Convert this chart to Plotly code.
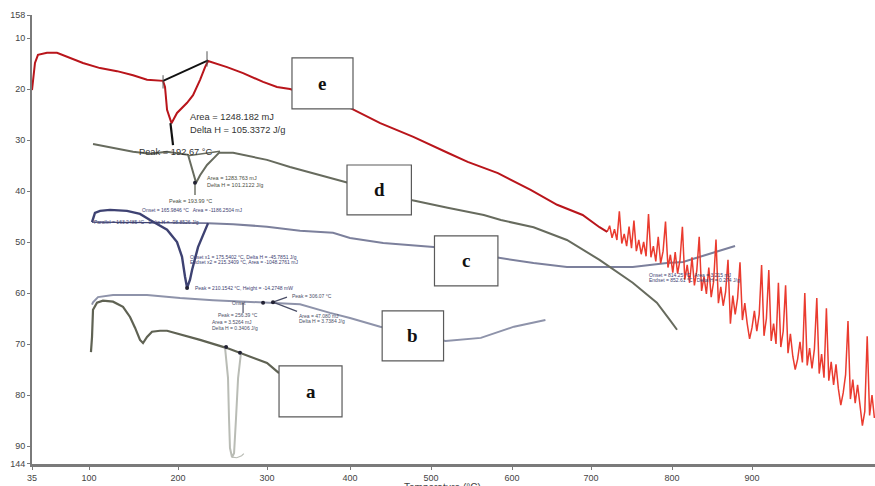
import numpy as np
import plotly.graph_objects as go

# ---- axes -------------------------------------------------------------
# printed temperature ticks and their spacing along the (non-uniform) axis
TICK_T = [35, 100, 200, 300, 400, 500, 600, 700, 800, 900, 1000, 1100]
TICK_POS = [0, 57, 146, 235, 318, 399, 480, 559, 640, 720, 800, 880]
X_LABELS = ["35", "100", "200", "300", "400", "500", "600", "700", "800", "900"]

Y_TICKS = [5.5, 10, 20, 30, 40, 50, 60, 70, 80, 90, 93.5]
Y_LABELS = ["158", "10", "20", "30", "40", "50", "60", "70", "80", "90", "144"]

# ---- thermograms (temperature in °C, heat-flow reading) ---------------
# e : smooth part
e_T = [35, 36.1, 38.4, 41.8, 52.1, 63.5, 74.9, 93.1, 112.4, 131.5, 149.5, 165.2,
       183.2, 185.4, 187.7, 192.67, 198.9, 210.2, 216.9, 224.8, 230.4, 233.8,
       255.1, 273.1, 295.6, 312.0, 327.7, 400, 437.3, 478.2, 520.5, 545.3,
       582.6, 623.6, 657.1, 689.4, 710.5, 720]
e_V = [20.2, 18.2, 14.9, 13.3, 12.9, 12.9, 13.7, 14.9, 15.9, 16.5, 17.3, 18.2,
       18.4, 19.6, 24.1, 26.7, 24.7, 22.7, 21.2, 18.2, 15.7, 14.5,
       15.7, 16.9, 18.6, 19.6, 20.0, 23.7, 26.7, 29.4, 32.5, 34.3,
       36.5, 39.8, 42.7, 44.7, 47.1, 48.0]
# e : noisy high-temperature part, one reading every 3 °C from 720 °C
EN_START, EN_STEP = 720, 3
en_V = [48.0, 46.8, 49.2, 47.5, 49.6, 44.0, 50.3, 48.4, 50.8, 47.0, 51.2, 45.8,
        51.8, 49.6, 52.4, 50.0, 52.8, 44.5, 53.0, 50.8, 53.8, 49.0, 54.2, 51.8,
        46.0, 55.0, 52.5, 56.0, 52.0, 56.2, 53.5, 47.0, 57.4, 54.5, 58.0, 53.0,
        58.5, 55.6, 49.0, 59.6, 56.8, 60.2, 55.0, 60.8, 57.8, 49.5, 62.0, 58.8,
        62.5, 59.8, 53.5, 66.0, 60.5, 64.2, 61.0, 54.0, 65.3, 62.0, 66.0, 69.0,
        66.8, 63.5, 67.5, 64.2, 54.5, 68.4, 65.0, 55.5, 69.4, 66.0, 70.0, 58.0,
        70.6, 67.5, 58.5, 71.8, 68.0, 72.4, 75.0, 73.0, 69.6, 73.6, 60.0, 74.2,
        70.8, 74.8, 71.0, 61.0, 75.8, 72.0, 76.6, 63.0, 77.2, 73.5, 78.0, 74.0,
        78.8, 82.0, 79.6, 76.0, 65.5, 80.8, 77.0, 81.6, 78.0, 82.4, 86.0, 83.2,
        68.5, 84.0, 80.0, 84.5]
en_T = [EN_START + EN_STEP * i for i in range(len(en_V))]

d_T = [104.5, 123.6, 149.5, 168.6, 187.7, 211.3, 214.6, 218.0, 220.3, 224.8,
       232.6, 240.5, 246.1, 261.9, 300, 327.7, 355.4, 396.4, 477.0, 520.5,
       565.2, 586.3, 627.3, 669.5, 710.5, 751.5, 781.3, 797.5, 806.3]
d_V = [30.8, 31.4, 32.3, 32.7, 32.3, 32.9, 34.9, 37.5, 38.4, 36.9,
       34.9, 33.5, 32.5, 32.5, 33.9, 35.3, 36.5, 38.4, 41.8, 43.3,
       44.7, 45.7, 47.1, 49.6, 53.5, 58.0, 61.9, 65.3, 67.2]

c_T = [103.4, 106.7, 112.4, 123.6, 142.7, 157.3, 168.6, 187.7, 198.9, 204.5,
       207.9, 210.2, 213.5, 215.8, 222.5, 229.3, 233.8]
c_V = [46.1, 44.3, 43.9, 43.7, 43.9, 44.5, 45.7, 47.6, 50.0, 52.9,
       56.8, 59.0, 57.4, 55.5, 51.0, 48.0, 46.3]
c2_T = [233.8, 261.9, 300.0, 339.8, 379.5, 400, 441.0, 483.2, 503.1, 583.8,
        627.3, 669.5, 710.5, 751.5, 793.8, 813.8, 835, 856.3, 878.8]
c2_V = [46.3, 46.5, 47.0, 47.8, 48.2, 49.2, 50.2, 50.8, 51.0, 53.1,
        54.1, 54.9, 54.9, 54.9, 54.1, 53.9, 52.9, 51.9, 50.8]

b_T = [103.4, 104.5, 110.1, 127.0, 165.2, 202.3, 239.4, 295.6, 339.8, 375.9,
       400, 437.3, 518.0, 561.5, 602.5, 642.3]
b_V = [62.3, 61.8, 60.8, 60.4, 60.4, 61.0, 61.4, 61.9, 62.2, 63.9,
       64.9, 66.6, 69.4, 68.8, 66.6, 65.3]

a_T = [102.2, 103.4, 104.5, 109.0, 115.7, 127.0, 138.2, 146.1, 151.7, 157.3,
       160.7, 165.2, 170.8, 179.8, 187.7, 205.7, 224.8, 255.1, 269.7, 284.3,
       300, 314.5]
a_V = [71.6, 68.6, 63.3, 61.9, 61.5, 61.7, 62.7, 64.7, 66.8, 69.2,
       69.8, 68.6, 67.6, 67.4, 67.4, 68.2, 69.2, 70.8, 71.7, 72.7,
       73.7, 75.7]
# a : sharp melting endotherm
am_T = [252.8, 256.2, 257.3, 258.4, 260.7, 263.0, 265.2, 267.5, 270.8]
am_V = [70.6, 76.7, 84.5, 90.4, 92.2, 91.4, 84.5, 76.7, 71.7]
am_tail_T = [260.7, 266.0, 271.5, 274.0]
am_tail_V = [92.2, 92.3, 91.9, 91.5]

# integration baselines / peak markers
e_base_T, e_base_V = [183.2, 233.8], [18.4, 14.4]
e_peak_T, e_peak_V = [191.5, 194.4], [26.7, 31.0]
d_base_T, d_base_V = [211.3, 247.2], [33.1, 32.2]
d_peak_T, d_peak_V = [219.1, 219.1], [38.4, 40.8]
c_base_T, c_base_V = [103.4, 233.8], [46.1, 46.3]

LABELS = ["a", "b", "c", "d", "e"]
# label boxes: (T_left, T_right, V_top, V_bottom)
BOXES = {
    "e": (330.1, 403.7, 13.9, 23.9),
    "d": (396.4, 475.8, 34.9, 44.7),
    "c": (504.3, 582.6, 48.8, 58.6),
    "b": (439.7, 515.5, 63.5, 73.3),
    "a": (314.5, 390.4, 74.3, 84.3),
}


def tx(t):
    """Map temperatures onto the axis spacing."""
    return np.interp(np.asarray(t, dtype=float), TICK_T, TICK_POS)


fig = go.Figure()


def line(T, V, color, width=2.0, shape="linear"):
    fig.add_trace(go.Scatter(x=tx(T), y=V, mode="lines",
                             line=dict(color=color, width=width, shape=shape),
                             hoverinfo="skip", showlegend=False))


RED = "#b9151b"
RED_N = "#ea3b2f"
OLIVE = "#676b5e"
NAVY = "#3e4272"
SLATE = "#7c809c"
LBLUE = "#8e93aa"
AGREY = "#5f6253"
LGREY = "#b9bcb5"

line(a_T, a_V, AGREY, 2.2)
line(am_T, am_V, LGREY, 2.0)
line(am_tail_T, am_tail_V, LGREY, 1.2)
line(b_T, b_V, LBLUE, 2.0)
line(c2_T, c2_V, SLATE, 2.0)
line(c_T, c_V, NAVY, 2.4)
line(c_base_T, c_base_V, NAVY, 1.2)
line(d_T, d_V, OLIVE, 2.0)
line(d_base_T, d_base_V, OLIVE, 1.4)
line(d_peak_T, d_peak_V, OLIVE, 1.4)
line(en_T, en_V, RED_N, 1.5)
line(e_T, e_V, RED, 2.0)
line(e_base_T, e_base_V, "#111111", 1.8)
line(e_peak_T, e_peak_V, "#111111", 2.2)
line([183.2, 183.2], [17.3, 19.9], "#555555", 1.0)
line([232.6, 232.6], [12.6, 15.6], "#555555", 1.0)

# small peak-analysis leader lines for curve b
line([273.1, 273.1], [61.9, 63.9], "#4a4e66", 1.2)
line([307.2, 336.2], [61.8, 63.6], "#4a4e66", 1.2)
line([307.2, 324.1], [61.8, 60.8], "#4a4e66", 1.2)

# marker dots on analysed peaks
fig.add_trace(go.Scatter(x=tx([210.2, 295.6, 307.2, 254.0, 269.7, 219.1]),
                         y=[59.0, 61.9, 61.8, 70.6, 71.7, 38.4],
                         mode="markers",
                         marker=dict(size=4, color="#222233"),
                         hoverinfo="skip", showlegend=False))

shapes = []
annotations = []
for key in LABELS:
    t0, t1, v0, v1 = BOXES[key]
    x0, x1 = tx([t0, t1])
    shapes.append(dict(type="rect", xref="x", yref="y", x0=x0, x1=x1, y0=v0, y1=v1,
                       fillcolor="white", line=dict(color="#5a5a5a", width=1.2)))
    annotations.append(dict(x=(x0 + x1) / 2, y=(v0 + v1) / 2, xref="x", yref="y",
                            text=f"<b>{key}</b>", showarrow=False,
                            font=dict(family="Liberation Serif", size=19, color="#111")))


def note(T, V, text, size, color="#333333", anchor="left"):
    annotations.append(dict(x=float(tx([T])[0]), y=V, xref="x", yref="y", text=text,
                            showarrow=False, xanchor=anchor, yanchor="middle",
                            font=dict(family="Liberation Sans", size=size, color=color)))


note(211.3, 25.5, "Area = 1248.182 mJ", 9.3)
note(211.3, 28.0, "Delta H = 105.3372 J/g", 9.3)
note(154.0, 32.3, "Peak = 192.67 °C", 9.3)

note(230.4, 37.4, "Area = 1283.763 mJ", 5.5, "#4b4e42")
note(230.4, 38.8, "Delta H = 101.2122 J/g", 5.5, "#4b4e42")
note(213.5, 42.0, "Peak = 193.99 °C", 5.5, "#4b4e42", "center")

note(157.3, 43.7, "Onset = 165.9846 °C   Area = -1186.2504 mJ", 5, NAVY)
note(103.4, 46.1, "Parallel = 163.2485 °C   Delta H = -98.8526 J/g", 5, NAVY)
note(211.3, 52.9, "Onset x1 = 175.5402 °C, Delta H = -45.7851 J/g", 5, NAVY)
note(211.3, 53.9, "Endset x2 = 215.3409 °C, Area = -1048.2761 mJ", 5, NAVY)
note(216.9, 59.0, "Peak = 210.1542 °C, Height = -14.2748 mW", 5, NAVY)
note(768.9, 56.5, "Onset = 814.25 °C   Area = 3.215 mJ", 5, NAVY)
note(768.9, 57.4, "Endset = 852.61 °C   Delta H = 0.274 J/g", 5, NAVY)

note(327.7, 60.6, "Peak = 306.07 °C", 5, "#4a4e66")
note(336.2, 64.5, "Area = 47.080 mJ", 5, "#4a4e66")
note(336.2, 65.5, "Delta H = 3.7384 J/g", 5, "#4a4e66")
note(258.4, 61.9, "Onset", 5, "#4a4e66")
note(243.0, 64.4, "Peak = 256.39 °C", 5, "#4a4e66")
note(236.0, 65.6, "Area = 3.5264 mJ", 5, "#4a4e66")
note(236.0, 66.8, "Delta H = 0.3406 J/g", 5, "#4a4e66")

# axis title, mostly below the visible frame
annotations.append(dict(x=float(tx([514])[0]), y=-0.035, xref="x", yref="paper",
                        text="Temperature (°C)", showarrow=False, yanchor="top",
                        font=dict(family="Liberation Sans", size=10, color="#444")))

fig.update_layout(
    width=875, height=486,
    margin=dict(l=32, r=0, t=15, b=22),
    paper_bgcolor="white", plot_bgcolor="white",
    shapes=shapes, annotations=annotations,
    showlegend=False,
    xaxis=dict(range=[0, 843], tickmode="array",
               tickvals=list(tx([float(v) for v in X_LABELS])), ticktext=X_LABELS,
               showgrid=False, zeroline=False, showline=True,
               linecolor="#7a7a7a", linewidth=2.5, ticks="outside", ticklen=3,
               tickcolor="#7a7a7a",
               tickfont=dict(family="Liberation Sans", size=9, color="#444")),
    yaxis=dict(range=[93.53, 5.49], tickmode="array", tickvals=Y_TICKS,
               ticktext=Y_LABELS, showgrid=False, zeroline=False, showline=True,
               linecolor="#7a7a7a", linewidth=2, ticks="outside", ticklen=3,
               tickcolor="#7a7a7a",
               tickfont=dict(family="Liberation Sans", size=9, color="#444")),
)

fig.write_html("out.html")
